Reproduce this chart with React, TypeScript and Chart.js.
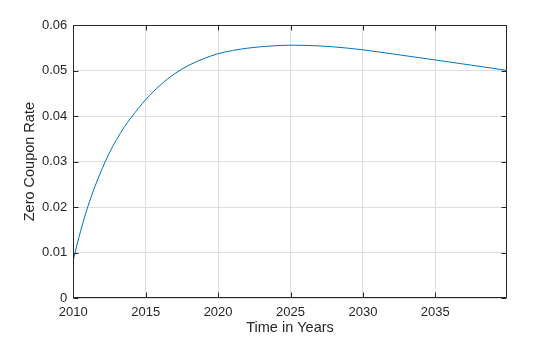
import React, { useEffect, useRef } from "react";
import { Chart, registerables } from "chart.js";

Chart.register(...registerables);

const years: number[] = [
  2010, 2010.25, 2010.5, 2011, 2011.5, 2012, 2012.5, 2013, 2013.5, 2014, 2015, 2016, 2017,
  2018, 2019, 2020, 2021, 2022, 2023, 2024, 2025, 2026, 2027, 2028, 2029, 2030, 2032.5,
  2035, 2037.5, 2039.93,
];
const rates: number[] = [
  0.0084, 0.0117, 0.0147, 0.0201, 0.0246, 0.0285, 0.032, 0.0349, 0.0375, 0.0397, 0.0436,
  0.0468, 0.0493, 0.0512, 0.0526, 0.0537, 0.0544, 0.0549, 0.05525, 0.05545, 0.05557,
  0.05553, 0.0554, 0.0552, 0.0549, 0.05455, 0.05345, 0.05232, 0.05118, 0.05005,
];
const xMin = 2010;
const xMax = 2039.93;
const xStep = 5;
const yMin = 0;
const yMax = 0.06;
const yStep = 0.01;
const xTitle = "Time in Years";
const yTitle = "Zero Coupon Rate";

const AXIS = "#262626";
const GRID = "#dedede";
const LINE = "#0072BD";
const FONT = "Arial, 'Liberation Sans', Helvetica, sans-serif";

const boxPlugin = {
  id: "matlabBox",
  afterDraw(chart: any) {
    const { ctx, chartArea } = chart;
    const { left, right, top, bottom } = chartArea;
    const xs = chart.scales.x;
    const ys = chart.scales.y;
    ctx.save();
    ctx.strokeStyle = AXIS;
    ctx.lineWidth = 1;
    const L = Math.round(left) + 0.5;
    const R = Math.round(right) - 0.5;
    const T = Math.round(top) + 0.5;
    const B = Math.round(bottom) - 0.5;
    ctx.beginPath();
    ctx.rect(L, T, R - L, B - T);
    ctx.stroke();
    const tl = 5;
    ctx.beginPath();
    xs.ticks.forEach((t: any) => {
      const px = Math.round(xs.getPixelForValue(t.value)) + 0.5;
      ctx.moveTo(px, B);
      ctx.lineTo(px, B - tl);
      ctx.moveTo(px, T);
      ctx.lineTo(px, T + tl);
    });
    ys.ticks.forEach((t: any) => {
      const py = Math.round(ys.getPixelForValue(t.value)) + 0.5;
      ctx.moveTo(L, py);
      ctx.lineTo(L + tl, py);
      ctx.moveTo(R, py);
      ctx.lineTo(R - tl, py);
    });
    ctx.stroke();
    ctx.restore();
  },
};

export default function App() {
  const ref = useRef<HTMLCanvasElement | null>(null);

  useEffect(() => {
    document.body.style.margin = "0";
    const canvas = ref.current;
    if (!canvas) return;
    const chart = new Chart(canvas, {
      type: "line",
      data: {
        datasets: [
          {
            data: years.map((x, i) => ({ x, y: rates[i] })),
            borderColor: LINE,
            borderWidth: 1,
            pointRadius: 0,
            fill: false,
            cubicInterpolationMode: "monotone",
          },
        ],
      },
      plugins: [boxPlugin],
      options: {
        responsive: false,
        animation: false,
        devicePixelRatio: 1,
        layout: { padding: { left: 0, top: 25, right: 53.3, bottom: 0 } },
        plugins: { legend: { display: false }, tooltip: { enabled: false } },
        scales: {
          x: {
            type: "linear",
            min: xMin,
            max: xMax,
            afterBuildTicks: (scale: any) => {
              const ticks: any[] = [];
              for (let v = xMin; v <= xMax + 1e-9; v += xStep) ticks.push({ value: v });
              scale.ticks = ticks;
            },
            afterFit: (scale: any) => {
              scale.height = 38.7;
            },
            ticks: {
              stepSize: xStep,
              color: AXIS,
              font: { family: FONT, size: 13 },
              padding: 6,
              maxRotation: 0,
              autoSkip: false,
              callback: (v: any) => String(Math.round(Number(v))),
            },
            grid: { color: GRID, drawTicks: false, lineWidth: 1 },
            border: { display: false },
            title: {
              display: true,
              text: xTitle,
              color: AXIS,
              font: { family: FONT, size: 14.5 },
              padding: { top: 0, bottom: 0 },
            },
          },
          y: {
            type: "linear",
            min: yMin,
            max: yMax,
            afterFit: (scale: any) => {
              scale.width = 73.3;
            },
            ticks: {
              stepSize: yStep,
              color: AXIS,
              font: { family: FONT, size: 13 },
              padding: 6,
              callback: (v: any) => (Number(v) === 0 ? "0" : Number(v).toFixed(2)),
            },
            grid: { color: GRID, drawTicks: false, lineWidth: 1 },
            border: { display: false },
            title: {
              display: true,
              text: yTitle,
              color: AXIS,
              font: { family: FONT, size: 14.5 },
              padding: { top: 21, bottom: 0 },
            },
          },
        },
      },
    } as any);
    return () => chart.destroy();
  }, []);

  return (
    <div style={{ position: "absolute", left: 0, top: 0, width: 560, height: 337, background: "#fff" }}>
      <canvas ref={ref} width={560} height={337} style={{ display: "block" }} />
    </div>
  );
}
